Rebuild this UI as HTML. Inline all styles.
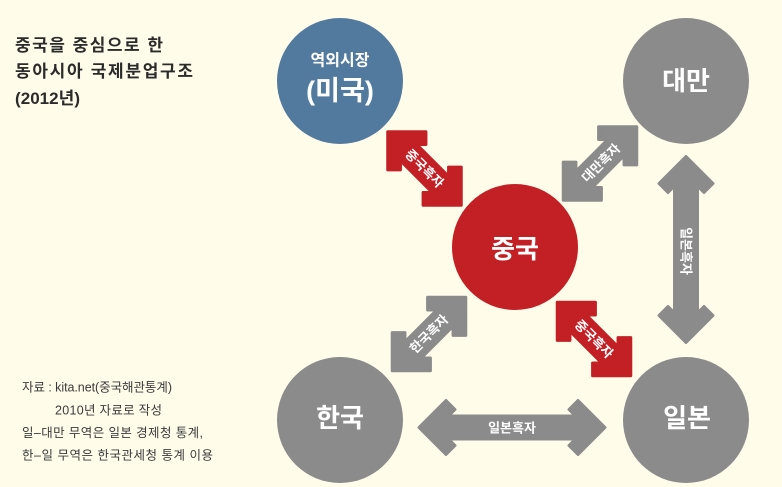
<!DOCTYPE html>
<html><head><meta charset="utf-8"><style>
html,body{margin:0;padding:0;background:#fffcea;}
svg{display:block;}
text{font-family:"Liberation Sans","Noto Sans CJK KR",sans-serif;}
</style></head><body>
<svg width="782" height="487" viewBox="0 0 782 487" xmlns="http://www.w3.org/2000/svg">
<rect width="782" height="487" fill="#fffcea"/>
<defs>
<polygon id="aDiag" points="52,0 25,27 16,18 22.5,11.5 -22.5,11.5 -16,18 -25,27 -52,0 -25,-27 -16,-18 -22.5,-11.5 22.5,-11.5 16,-18 25,-27"/>
<polygon id="aLong" points="93,0 66,27 57,18 63.5,11.5 -63.5,11.5 -57,18 -66,27 -93,0 -66,-27 -57,-18 -63.5,-11.5 63.5,-11.5 57,-18 66,-27"/>
</defs>

<!-- title -->
<g fill="#2b2b2b" font-weight="bold" font-size="17">
<text x="15" y="51" textLength="148" lengthAdjust="spacing">중국을 중심으로 한</text>
<text x="15" y="77" textLength="178" lengthAdjust="spacing">동아시아 국제분업구조</text>
<text x="15" y="104" textLength="65" lengthAdjust="spacing">(2012년)</text>
</g>

<!-- source -->
<g fill="#3a3a3a" font-size="12.5">
<text x="22" y="391.5" textLength="150" lengthAdjust="spacing">자료 : kita.net(중국해관통계)</text>
<text x="55" y="414.5" textLength="107" lengthAdjust="spacing">2010년 자료로 작성</text>
<text x="22" y="437" textLength="181" lengthAdjust="spacing">일–대만 무역은 일본 경제청 통계,</text>
<text x="22" y="459.5" textLength="191" lengthAdjust="spacing">한–일 무역은 한국관세청 통계 이용</text>
</g>

<!-- circles -->
<circle cx="340" cy="81" r="63" fill="#527a9f"/>
<circle cx="686" cy="81" r="63" fill="#8b8b8b"/>
<circle cx="515" cy="247" r="63" fill="#c32026"/>
<circle cx="340" cy="420" r="63" fill="#8b8b8b"/>
<circle cx="686" cy="420" r="63" fill="#8b8b8b"/>

<!-- arrows -->
<g stroke-width="3" stroke-linejoin="round">
<use href="#aDiag" fill="#c32026" stroke="#c32026" transform="translate(424.5,168.5) rotate(45)"/>
<use href="#aDiag" fill="#c32026" stroke="#c32026" transform="translate(594,339) rotate(45)"/>
<use href="#aDiag" fill="#8b8b8b" stroke="#8b8b8b" transform="translate(600,163.5) rotate(-45)"/>
<use href="#aDiag" fill="#8b8b8b" stroke="#8b8b8b" transform="translate(429,334) rotate(-45)"/>
<use href="#aLong" fill="#8b8b8b" stroke="#8b8b8b" transform="translate(686,249.5) rotate(90)"/>
<use href="#aLong" fill="#8b8b8b" stroke="#8b8b8b" transform="translate(512,427.5)"/>
</g>

<!-- arrow labels -->
<g fill="#ffffff" font-size="13" font-weight="bold" text-anchor="middle" dominant-baseline="central">
<text transform="translate(424.5,168.5) rotate(45)">중국흑자</text>
<text transform="translate(594,339) rotate(45)">중국흑자</text>
<text transform="translate(601,163) rotate(-45)">대만흑자</text>
<text transform="translate(429,334) rotate(-45)">한국흑자</text>
<text transform="translate(686,251) rotate(90)">일본흑자</text>
<text x="512" y="428">일본흑자</text>
</g>

<!-- circle labels -->
<g fill="#ffffff" font-weight="bold" text-anchor="middle" dominant-baseline="central">
<text x="340" y="61" font-size="16">역외시장</text>
<text x="340" y="91" font-size="27">(미국)</text>
<text x="686" y="81" font-size="26">대만</text>
<text x="515" y="249" font-size="26">중국</text>
<text x="340" y="418" font-size="26">한국</text>
<text x="687" y="418" font-size="26">일본</text>
</g>
</svg>
</body></html>
